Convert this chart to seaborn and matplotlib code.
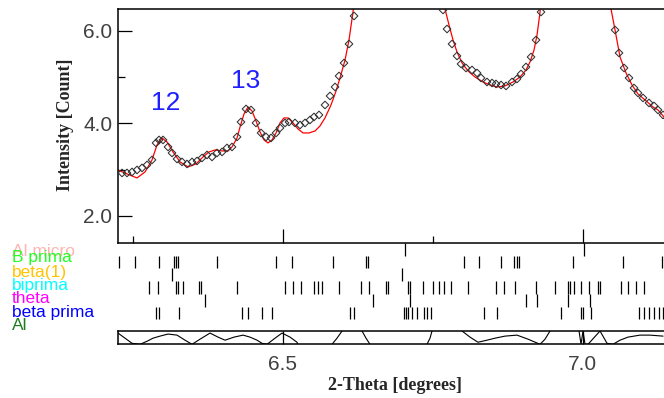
import matplotlib
matplotlib.use("Agg")
import matplotlib.pyplot as plt
from matplotlib.ticker import FixedLocator, NullLocator
import pandas as pd
import seaborn as sns

# ---- observed profile (open diamonds) ----
two_theta_obs = [
    6.2325, 6.2408, 6.2492, 6.2575, 6.2658, 6.2742, 6.2825, 6.2892, 6.2942, 6.3008,
    6.3092, 6.3158, 6.3242, 6.3325, 6.3408, 6.3492, 6.3575, 6.3658, 6.3742, 6.3825,
    6.3908, 6.3992, 6.4075, 6.4158, 6.4242, 6.4308, 6.4392, 6.4475, 6.4558, 6.4642,
    6.4725, 6.4808, 6.4892, 6.4958, 6.5042, 6.5108, 6.5208, 6.5292, 6.5375, 6.5458,
    6.5525, 6.5608, 6.5708, 6.5792, 6.5875, 6.5942, 6.6025, 6.6108, 6.6192,
    6.7675, 6.7742, 6.7825, 6.7908, 6.7975, 6.8058, 6.8158, 6.8242, 6.8308, 6.8408,
    6.8492, 6.8558, 6.8642, 6.8725, 6.8825, 6.8908, 6.8975, 6.9058, 6.9142, 6.9225,
    6.9308,
    7.0542, 7.0608, 7.0692, 7.0775, 7.0858, 7.0925, 7.1008, 7.1108, 7.1192, 7.1258,
    7.1342,
]
intensity_obs = [
    2.926, 2.926, 2.948, 2.991, 3.035, 3.100, 3.208, 3.576, 3.641, 3.641,
    3.489, 3.359, 3.229, 3.165, 3.121, 3.165, 3.186, 3.251, 3.316, 3.273,
    3.359, 3.381, 3.468, 3.489, 3.706, 4.030, 4.312, 4.290, 4.009, 3.792,
    3.706, 3.684, 3.792, 3.900, 4.009, 4.030, 4.009, 3.965, 4.009, 4.074,
    4.139, 4.182, 4.398, 4.593, 4.788, 5.026, 5.307, 5.719, 6.325,
    6.455, 6.043, 5.719, 5.459, 5.286, 5.199, 5.156, 5.091, 4.983, 4.896,
    4.874, 4.853, 4.831, 4.810, 4.896, 4.961, 5.069, 5.221, 5.437, 5.805,
    6.411,
    6.022, 5.524, 5.199, 4.983, 4.766, 4.658, 4.550, 4.442, 4.377, 4.290,
    4.182,
]

# ---- calculated profile (red line); 7.2 marks the off-scale peak tops ----
two_theta_calc = [
    6.2258, 6.2408, 6.2575, 6.2708, 6.2825, 6.2908, 6.2992, 6.3075, 6.3175, 6.3292,
    6.3425, 6.3558, 6.3675, 6.3775, 6.3875, 6.3992, 6.4092, 6.4158, 6.4242, 6.4292,
    6.4358, 6.4425, 6.4492, 6.4558, 6.4625, 6.4692, 6.4758, 6.4825, 6.4892, 6.4958,
    6.5025, 6.5092, 6.5175, 6.5258, 6.5342, 6.5442, 6.5542, 6.5625, 6.5708, 6.5808,
    6.5892, 6.5958, 6.6042, 6.6108, 6.6175, 6.6220,
    6.7660, 6.7708, 6.7775, 6.7842, 6.7908, 6.7992, 6.8092, 6.8208, 6.8342, 6.8458,
    6.8575, 6.8708, 6.8842, 6.8958, 6.9058, 6.9125, 6.9192, 6.9242, 6.9292, 6.9340,
    7.0430, 7.0475, 7.0542, 7.0625, 7.0725, 7.0825, 7.0925, 7.1042, 7.1175, 7.1258,
    7.1358,
]
intensity_calc = [
    2.991, 2.905, 2.818, 2.948, 3.208, 3.532, 3.684, 3.597, 3.381, 3.165,
    3.056, 3.121, 3.273, 3.381, 3.424, 3.403, 3.403, 3.489, 3.684, 3.922,
    4.204, 4.355, 4.268, 4.052, 3.814, 3.641, 3.576, 3.641, 3.792, 4.009,
    4.117, 4.117, 4.009, 3.879, 3.792, 3.792, 3.835, 3.944, 4.117, 4.398,
    4.701, 4.983, 5.372, 5.805, 6.411, 7.2,
    7.2, 6.476, 6.130, 5.805, 5.545, 5.307, 5.134, 5.004, 4.896, 4.831,
    4.788, 4.810, 4.896, 5.004, 5.156, 5.329, 5.589, 5.913, 6.411, 7.2,
    7.2, 6.476, 6.022, 5.437, 5.091, 4.831, 4.636, 4.506, 4.355, 4.290,
    4.139,
]

# ---- difference curve, scaled to the strip (-1 .. 1) ----
two_theta_diff = [
    6.2258, 6.2375, 6.2492, 6.2625, 6.2742, 6.2842, 6.2958, 6.3092, 6.3242, 6.3375,
    6.3492, 6.3625, 6.3792, 6.3925, 6.4042, 6.4192, 6.4342, 6.4458, 6.4575, 6.4658,
    6.4742, 6.4875, 6.4992, 6.5125, 6.5242, 6.5275, 6.5775, 6.5825, 6.5908, 6.5992,
    6.6025, 6.6292, 6.6325, 6.6392, 6.6458, 6.6492, 6.7375, 6.7408, 6.7458, 6.7492,
    6.7525, 6.7958, 6.7992, 6.8125, 6.8258, 6.8408, 6.8542, 6.8708, 6.8908, 6.9092,
    6.9292, 6.9375, 6.9458, 6.9492, 6.9925, 6.9942, 6.9975, 7.0008, 7.0042, 7.0092,
    7.0292, 7.0408, 7.0508, 7.0625, 7.0758, 7.0958, 7.1125, 7.1342,
]
diff_scaled = [
    0.69, -0.08, -0.85, -1.0, -0.54, -0.08, 0.23, 0.54, 0.38, -0.38,
    -1.0, -0.23, 0.69, 0.08, -0.38, 0.08, 0.38, 0.08, -0.38, -0.85,
    -1.0, -0.08, 0.69, 0.08, -0.69, -1.6, -1.6, -1.0, -0.08, 1.0,
    1.6, 1.6, 1.0, -0.08, -1.0, -1.6, -1.6, -1.0, -0.08, 1.0,
    1.6, 1.6, 1.0, 0.08, -0.69, -0.38, -0.08, 0.23, 0.38, -0.23,
    -1.0, -0.23, 1.0, 1.6, 1.6, 1.0, -1.0, 1.0, -1.0, -1.0,
    1.0, -0.85, -1.0, -0.38, 0.08, 0.38, 0.38, 0.23,
]

# ---- reflection positions per phase ----
al_micro_pos = [6.7042, 7.0025]
b_prima_pos = [6.2275, 6.2542, 6.2942, 6.3192, 6.3225, 6.3258, 6.3908, 6.4892, 6.5158,
               6.5842, 6.6392, 6.6425, 6.8025, 6.8275, 6.8642, 6.8858, 6.8908, 6.8942,
               6.9842, 7.0675, 7.1325]
beta1_pos = [6.3158, 6.6992]
biprima_pos = [6.2775, 6.2925, 6.3225, 6.3258, 6.3342, 6.3608, 6.3642, 6.4242, 6.5042,
               6.5175, 6.5308, 6.5525, 6.5592, 6.5658, 6.5942, 6.6308, 6.6442, 6.6725,
               6.6758, 6.7092, 6.7125, 6.7342, 6.7508, 6.7608, 6.7692, 6.7808, 6.8092,
               6.8558, 6.8692, 6.8875, 6.9225, 6.9542, 6.9758, 6.9792, 6.9858, 6.9975,
               7.0108, 7.0258, 7.0292, 7.0642, 7.0758, 7.0892, 7.1025]
theta_pos = [6.3708, 6.6508, 6.7125, 6.9058, 6.9242, 6.9758, 7.0125]
beta_prima_pos = [6.2892, 6.2942, 6.3275, 6.4325, 6.4425, 6.4658, 6.4825, 6.6125, 6.6192,
                  6.7025, 6.7058, 6.7092, 6.7158, 6.7242, 6.7358, 6.7408, 6.7475, 6.8358,
                  6.8575, 6.9642, 6.9975, 7.0008, 7.0142, 7.0942, 7.1025, 7.1108, 7.1192,
                  7.1275, 7.1342]
al_pos = []

phase_names = ["Al micro", "B prima", "beta(1)", "biprima", "theta", "beta prima", "Al"]
phase_colors = ["#ffb4b4", "#22ff22", "#ffc400", "#00ffff", "#ff00ff", "#0000ff", "#1e7d1e"]
phase_positions = [al_micro_pos, b_prima_pos, beta1_pos, biprima_pos, theta_pos,
                   beta_prima_pos, al_pos]

peak_labels = ["12", "13"]
peak_label_x = [6.3058, 6.4392]
peak_label_y = [4.442, 4.918]

x_range = (6.2258, 7.1358)

sns.set_style("white")
plt.rcParams["font.family"] = ["Liberation Sans", "DejaVu Sans"]

W, H = 664, 398
fig = plt.figure(figsize=(W / 100, H / 100), dpi=100)


def box(left, top, right, bottom):
    return [left / W, 1 - bottom / H, (right - left) / W, (bottom - top) / H]


ax = fig.add_axes(box(118, 9, 664, 242.7))
ax_ph = fig.add_axes(box(118, 243, 664, 332))
ax_d = fig.add_axes(box(118, 331, 664, 344.3))

obs = pd.DataFrame({"two_theta": two_theta_obs, "intensity": intensity_obs})
calc = pd.DataFrame({"two_theta": two_theta_calc, "intensity": intensity_calc})
diff = pd.DataFrame({"two_theta": two_theta_diff, "diff": diff_scaled})

sns.lineplot(data=calc, x="two_theta", y="intensity", ax=ax, color="#ff0000",
             linewidth=0.9, sort=False, zorder=2)
sns.scatterplot(data=obs, x="two_theta", y="intensity", ax=ax, marker="D", s=15,
                facecolor="none", edgecolor="#303030", linewidth=0.75, zorder=3)

ax.set_xlim(*x_range)
ax.set_ylim(1.416, 6.476)
ax.set_xlabel("")
ax.set_ylabel("")
for s in ["left", "top", "bottom"]:
    ax.spines[s].set_visible(True)
    ax.spines[s].set_color("black")
    ax.spines[s].set_linewidth(1.1)
ax.spines["right"].set_visible(False)

ax.xaxis.set_major_locator(FixedLocator([6.5, 7.0]))
ax.xaxis.set_minor_locator(FixedLocator([6.25, 6.75]))
ax.yaxis.set_major_locator(FixedLocator([2.0, 4.0, 6.0]))
ax.yaxis.set_minor_locator(FixedLocator([3.0, 5.0]))
ax.set_yticklabels(["2.0", "4.0", "6.0"])
ax.tick_params(axis="x", which="both", direction="in", bottom=True, top=False,
               labelbottom=False)
ax.tick_params(axis="x", which="major", length=10, width=0.9, color="black")
ax.tick_params(axis="x", which="minor", length=5, width=0.9, color="black")
ax.tick_params(axis="y", which="both", direction="in", left=True, right=False)
ax.tick_params(axis="y", which="major", length=10, width=0.9, color="black",
               labelsize=15, labelcolor="#404040", pad=4)
ax.tick_params(axis="y", which="minor", length=5, width=0.9, color="black")

for lab, lx, ly in zip(peak_labels, peak_label_x, peak_label_y):
    ax.text(lx, ly, lab, color="#1f1fff", fontsize=19, ha="center", va="center")

# reflection markers, one row per phase
for row, pos in enumerate(phase_positions):
    if pos:
        ax_ph.vlines(pos, row, row + 1, color="black", linewidth=0.9)
ax_ph.set_xlim(*x_range)
ax_ph.set_ylim(len(phase_positions), 0)
ax_ph.axis("off")

baselines = [256, 262, 277, 290, 303, 317, 330]
for name, color, yb in zip(phase_names, phase_colors, baselines):
    fig.text(12 / W, 1 - yb / H, name, color=color, fontsize=12.5,
             ha="left", va="baseline")

# difference strip
sns.lineplot(data=diff, x="two_theta", y="diff", ax=ax_d, color="black",
             linewidth=0.8, sort=False)
ax_d.set_xlim(*x_range)
ax_d.set_ylim(-1.0, 1.0)
ax_d.set_xlabel("")
ax_d.set_ylabel("")
for s in ["left", "top", "bottom"]:
    ax_d.spines[s].set_visible(True)
    ax_d.spines[s].set_color("black")
    ax_d.spines[s].set_linewidth(1.1)
ax_d.spines["right"].set_visible(False)
ax_d.yaxis.set_major_locator(NullLocator())
ax_d.xaxis.set_major_locator(FixedLocator([6.5, 7.0]))
ax_d.xaxis.set_minor_locator(NullLocator())
ax_d.set_xticklabels(["6.5", "7.0"])
ax_d.tick_params(axis="x", which="major", direction="in", length=9.6, width=0.9,
                 color="black", labelsize=15, labelcolor="#404040", pad=8,
                 bottom=True, top=False)
ax_d.tick_params(axis="y", left=False, right=False)

fig.text(395 / W, 1 - 385 / H, "2-Theta [degrees]", family="Liberation Serif",
         fontweight="bold", fontsize=13, ha="center", va="center")
fig.text(66 / W, 1 - 125 / H, "Intensity [Count]", family="Liberation Serif",
         fontweight="bold", fontsize=13, ha="center", va="center", rotation=90)

fig.savefig("out.png", dpi=100)
